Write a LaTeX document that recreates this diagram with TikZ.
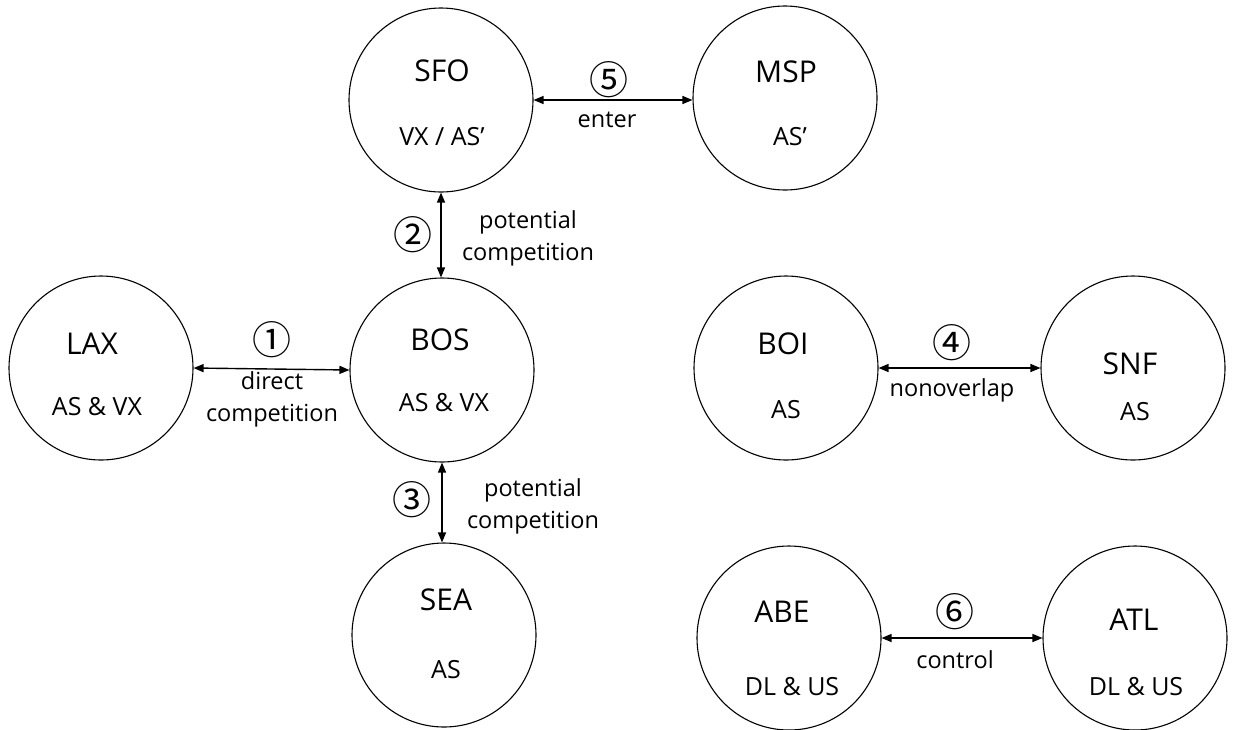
\documentclass[tikz,border=0pt]{standalone}
\usepackage{fontspec}
\setmainfont{Open Sans}
\newfontfamily\circfont{Noto Sans CJK KR}
\usetikzlibrary{arrows.meta}
\tikzset{
  airport/.style={circle, draw, line width=1.1pt, minimum size=184pt, inner sep=0pt},
  ttl/.style={font=\fontsize{30}{34}\selectfont, inner sep=0pt},
  sub/.style={font=\fontsize{25}{30}\selectfont, inner sep=0pt},
  lbl/.style={font=\fontsize{23.5}{32}\selectfont, align=center, inner sep=0pt},
  num/.style={font=\circfont\fontsize{39}{40}\selectfont, inner sep=0pt},
  link/.style={line width=1.4pt, {Triangle[length=10pt,width=8pt]}-{Triangle[length=10pt,width=8pt]}}
}
\begin{document}
\begin{tikzpicture}[x=1pt,y=-1pt]
\useasboundingbox (0,0) rectangle (1233,729);
% circles
\node[airport] (sfo) at (441,100) {};
\node[airport] (msp) at (785,98) {};
\node[airport] (lax) at (101,368) {};
\node[airport] (bos) at (442,370) {};
\node[airport] (sea) at (444,635) {};
\node[airport] (boi) at (786,368) {};
\node[airport] (snf) at (1133,368) {};
\node[airport] (abe) at (789,638) {};
\node[airport] (atl) at (1135,638) {};
% texts
\node[ttl] (sfoT) at (442,71) {SFO};
\node[sub] (sfoS) at (442,137) {VX / AS’};
\node[ttl] (mspT) at (786,72) {MSP};
\node[sub] (mspS) at (790,137) {AS’};
\node[ttl] (laxT) at (92,344) {LAX};
\node[sub] (laxS) at (97,407) {AS \& VX};
\node[ttl] (bosT) at (440,340) {BOS};
\node[sub] (bosS) at (444,403) {AS \& VX};
\node[ttl] (seaT) at (446,600) {SEA};
\node[sub] (seaS) at (446,670) {AS};
\node[ttl] (boiT) at (783,344) {BOI};
\node[sub] (boiS) at (786,410) {AS};
\node[ttl] (snfT) at (1130,364) {SNF};
\node[sub] (snfS) at (1135,412) {AS};
\node[ttl] (abeT) at (782,612) {ABE};
\node[sub] (abeS) at (792,687) {DL \& US};
\node[ttl] (atlT) at (1134,620) {ATL};
\node[sub] (atlS) at (1136,687) {DL \& US};
% connectors
\draw[link] (lax.east) -- (bos.west);
\draw[link] (sfo.south) -- (sfo.south |- bos.north);
\draw[link] (bos.south) -- (bos.south |- sea.north);
\draw[link] (boi.east) -- (snf.west);
\draw[link] (sfo.east) -- (msp.west |- sfo.east);
\draw[link] (abe.east) -- (atl.west);
% labels
\node[num] (n1) at (272,340) {①};
\node[lbl] (l1) at (272,399) {direct\\competition};
\node[num] (n2) at (413,235) {②};
\node[lbl] (l2) at (528,238) {potential\\competition};
\node[num] (n3) at (412,500) {③};
\node[lbl] (l3) at (533,506) {potential\\competition};
\node[num] (n4) at (952,343) {④};
\node[lbl] (l4) at (952,390) {nonoverlap};
\node[num] (n5) at (609,80) {⑤};
\node[lbl] (l5) at (607,120) {enter};
\node[num] (n6) at (955,612) {⑥};
\node[lbl] (l6) at (955,660) {control};
\end{tikzpicture}
\end{document}
